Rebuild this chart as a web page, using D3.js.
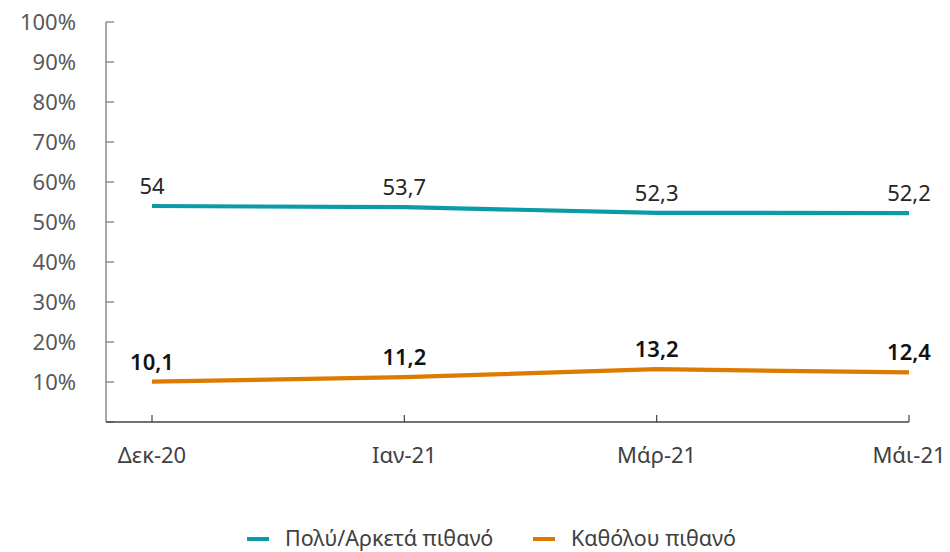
<!DOCTYPE html>
<html>
<head>
<meta charset="utf-8">
<script src="https://cdn.jsdelivr.net/npm/d3@7"></script>
<style>
  html, body { margin: 0; padding: 0; background: #fff; }
  svg { display: block; font-family: "Noto Sans", "Open Sans", sans-serif; }
</style>
</head>
<body>
<svg id="chart" width="950" height="552"></svg>
<script>
// Survey waves
const categories = ["Δεκ-20", "Ιαν-21", "Μάρ-21", "Μάι-21"];
// Share of respondents (%)
const likelyValues = [54, 53.7, 52.3, 52.2];
const unlikelyValues = [10.1, 11.2, 13.2, 12.4];
const seriesNames = ["Πολύ/Αρκετά πιθανό", "Καθόλου πιθανό"];
const yTicks = [10, 20, 30, 40, 50, 60, 70, 80, 90, 100];

const colors = ["#0A9BA7", "#DD7A00"];
const series = [
  { name: seriesNames[0], values: likelyValues, color: colors[0], weight: 400, labelColor: "#262626" },
  { name: seriesNames[1], values: unlikelyValues, color: colors[1], weight: 600, labelColor: "#111" }
];

const svg = d3.select("#chart");
const axisLeftX = 106, axisRightX = 909, plotTop = 22, plotBottom = 422;

const x = d3.scalePoint().domain(categories).range([152, 909]);
const y = d3.scaleLinear().domain([0, 100]).range([plotBottom, plotTop]);

// Y axis
const yAxis = svg.append("g").attr("transform", `translate(${axisLeftX},0)`);
yAxis.append("line").attr("x1", 0).attr("x2", 0).attr("y1", plotTop).attr("y2", plotBottom)
  .attr("stroke", "#777").attr("stroke-width", 1.3);
yAxis.selectAll("line.tick").data([0].concat(yTicks)).join("line")
  .attr("class", "tick")
  .attr("x1", 0).attr("x2", 8).attr("y1", d => y(d)).attr("y2", d => y(d))
  .attr("stroke", "#777").attr("stroke-width", 1.2);
yAxis.selectAll("text").data(yTicks).join("text")
  .attr("x", -30).attr("y", d => y(d)).attr("dy", "0.36em")
  .attr("text-anchor", "end").attr("font-size", 22).attr("fill", "#595959")
  .text(d => d + "%");

// X axis
const xAxis = svg.append("g");
xAxis.append("line").attr("x1", axisLeftX).attr("x2", axisRightX).attr("y1", plotBottom).attr("y2", plotBottom)
  .attr("stroke", "#444").attr("stroke-width", 1.3);
xAxis.selectAll("line.tick").data(categories).join("line")
  .attr("class", "tick")
  .attr("x1", d => x(d)).attr("x2", d => x(d)).attr("y1", plotBottom).attr("y2", plotBottom - 7)
  .attr("stroke", "#444").attr("stroke-width", 1.2);
xAxis.selectAll("text").data(categories).join("text")
  .attr("x", d => x(d)).attr("y", 463)
  .attr("text-anchor", "middle").attr("font-size", 22).attr("fill", "#404040")
  .text(d => d);

// Lines and value labels
const line = d3.line().x((d, i) => x(categories[i])).y(d => y(d));
const fmt = v => String(v).replace(".", ",");

series.forEach(s => {
  svg.append("path").datum(s.values)
    .attr("d", line).attr("fill", "none")
    .attr("stroke", s.color).attr("stroke-width", 4.2)
    .attr("stroke-linejoin", "round");
  svg.append("g").selectAll("text").data(s.values).join("text")
    .attr("x", (d, i) => x(categories[i]))
    .attr("y", d => y(d) - 12)
    .attr("text-anchor", "middle").attr("font-size", 22)
    .attr("font-weight", s.weight).attr("fill", s.labelColor)
    .text(d => fmt(d));
});

// Legend
const legendItems = [
  { name: series[0].name, color: series[0].color, x: 247 },
  { name: series[1].name, color: series[1].color, x: 533 }
];
const legend = svg.append("g");
legendItems.forEach(item => {
  legend.append("line")
    .attr("x1", item.x).attr("x2", item.x + 22).attr("y1", 539).attr("y2", 539)
    .attr("stroke", item.color).attr("stroke-width", 4);
  legend.append("text")
    .attr("x", item.x + 38).attr("y", 546)
    .attr("font-size", 21.5).attr("fill", "#404040")
    .text(item.name);
});
</script>
</body>
</html>
